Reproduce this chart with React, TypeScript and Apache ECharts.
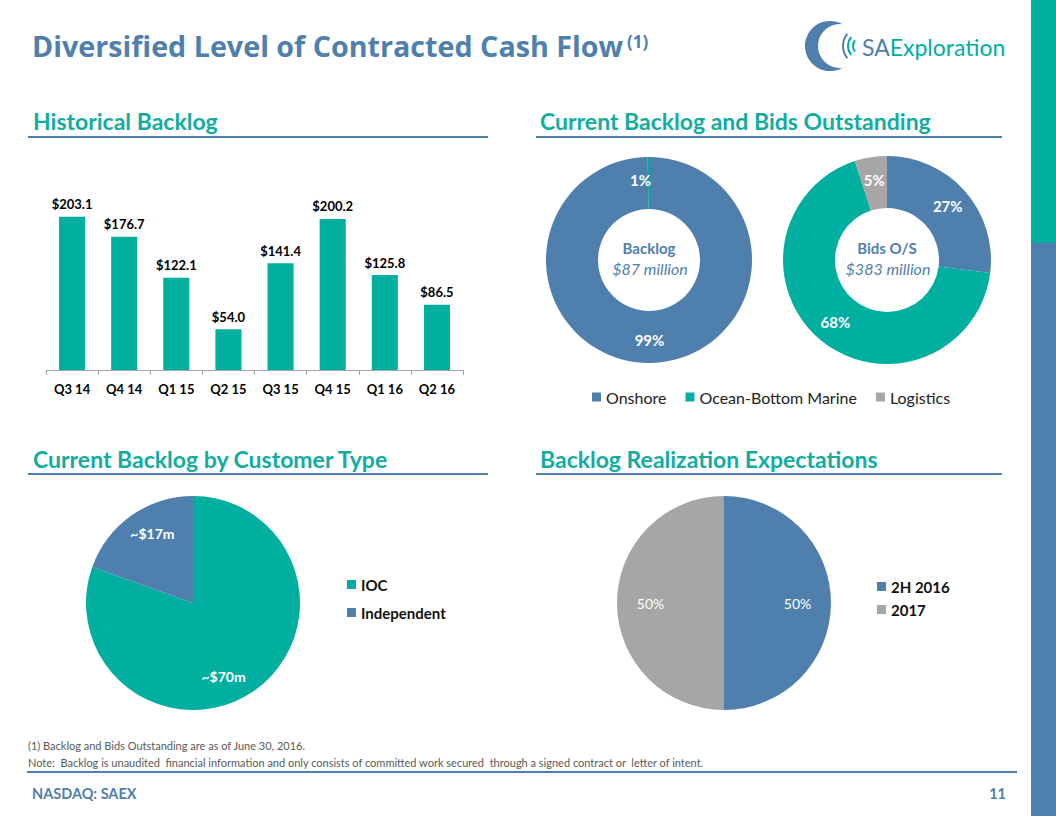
import React, { useEffect, useRef } from "react";
import * as echarts from "echarts";

const categories = ["Q3 14", "Q4 14", "Q1 15", "Q2 15", "Q3 15", "Q4 15", "Q1 16", "Q2 16"];
const backlogValues = [203.1, 176.7, 122.1, 54.0, 141.4, 200.2, 125.8, 86.5];

const segments = ["Onshore", "Ocean-Bottom Marine", "Logistics"];
const backlogShares = [99.8, 0.2];
const backlogLabels = ["99%", "1%"];
const bidsShares = [27, 68, 5];

const customerTypes = ["IOC", "Independent"];
const customerValues = [70, 17];

const periods = ["2H 2016", "2017"];
const periodShares = [50, 50];

const BLUE = "#4F7FAD";
const TEAL = "#00AFA0";
const GRAY = "#A6A6A6";
const HEAD = "#12ADA1";
const FONT = "Lato";
const segColors = [BLUE, TEAL, GRAY];

function header(text: string, x: number, y: number, x1: number, x2: number, lineY: number) {
  return [
    {
      type: "text",
      x,
      y,
      style: { text, fill: HEAD, fontFamily: FONT, fontWeight: "bold", fontSize: 23, verticalAlign: "middle" },
    },
    {
      type: "line",
      shape: { x1, y1: lineY, x2, y2: lineY },
      style: { stroke: BLUE, lineWidth: 2 },
    },
  ];
}

export default function App() {
  const ref = useRef<HTMLDivElement>(null);
  useEffect(() => {
    if (!ref.current) return;
    const chart = echarts.init(ref.current, null, { renderer: "svg" });
    const option: any = {
      animation: false,
      textStyle: { fontFamily: FONT },
      grid: { left: 46, right: 593, top: 204, bottom: 446 },
      xAxis: {
        type: "category",
        data: categories,
        axisLine: { lineStyle: { color: GRAY } },
        axisTick: { show: true, length: 5, lineStyle: { color: GRAY } },
        axisLabel: { color: "#000", fontWeight: "bold", fontSize: 13, margin: 12, fontFamily: FONT },
      },
      yAxis: { type: "value", min: 0, max: 220, show: false, splitLine: { show: false } },
      legend: [
        {
          data: segments,
          left: 592,
          top: 389,
          padding: 0,
          icon: "rect",
          itemWidth: 9,
          itemHeight: 9,
          itemGap: 19,
          textStyle: { fontSize: 16, color: "#222", fontFamily: FONT },
        },
        {
          data: customerTypes,
          left: 347,
          top: 577,
          padding: 0,
          orient: "vertical",
          icon: "rect",
          itemWidth: 9,
          itemHeight: 9,
          itemGap: 13,
          textStyle: { fontSize: 15, color: "#111", fontWeight: "bold", fontFamily: FONT },
        },
        {
          data: periods,
          left: 877,
          top: 579,
          padding: 0,
          orient: "vertical",
          icon: "rect",
          itemWidth: 9,
          itemHeight: 9,
          itemGap: 8,
          textStyle: { fontSize: 15, color: "#111", fontWeight: "bold", fontFamily: FONT },
        },
      ],
      series: [
        {
          type: "bar",
          data: backlogValues,
          barWidth: "50%",
          itemStyle: { color: TEAL },
          label: {
            show: true,
            position: "top",
            distance: 6,
            color: "#000",
            fontWeight: "bold",
            fontSize: 13,
            fontFamily: FONT,
            formatter: (p: any) => "$" + Number(p.value).toFixed(1),
          },
        },
        {
          type: "pie",
          center: [649, 260],
          radius: [51, 103],
          startAngle: 90,
          clockwise: true,
          data: backlogShares.map((v, i) => ({
            name: segments[i],
            value: v,
            itemStyle: { color: segColors[i] },
          })),
          label: {
            show: true,
            position: "inside",
            color: "#fff",
            fontWeight: "bold",
            fontSize: 15,
            fontFamily: FONT,
            formatter: (p: any) => backlogLabels[p.dataIndex],
          },
          labelLine: { show: false },
          labelLayout: (p: any) => (p.dataIndex === 1 ? { dx: -8, dy: 0 } : {}),
        },
        {
          type: "pie",
          center: [887, 260],
          radius: [52, 104],
          startAngle: 90,
          clockwise: true,
          data: bidsShares.map((v, i) => ({
            name: segments[i],
            value: v,
            itemStyle: { color: segColors[i] },
          })),
          label: {
            show: true,
            position: "inside",
            color: "#fff",
            fontWeight: "bold",
            fontSize: 15,
            fontFamily: FONT,
            formatter: "{c}%",
          },
          labelLine: { show: false },
        },
        {
          type: "pie",
          center: [193, 603],
          radius: 107,
          startAngle: 90,
          clockwise: true,
          data: customerValues.map((v, i) => ({
            name: customerTypes[i],
            value: v,
            itemStyle: { color: [TEAL, BLUE][i] },
          })),
          label: {
            show: true,
            position: "inside",
            color: "#fff",
            fontWeight: "bold",
            fontSize: 14,
            fontFamily: FONT,
            formatter: "~${c}m",
          },
          labelLine: { show: false },
          labelLayout: (p: any) => (p.dataIndex === 0 ? { dx: -2, dy: 27 } : { dx: -8, dy: -23 }),
        },
        {
          type: "pie",
          center: [724, 603],
          radius: 107,
          startAngle: 90,
          clockwise: true,
          data: periodShares.map((v, i) => ({
            name: periods[i],
            value: v,
            itemStyle: { color: [BLUE, GRAY][i] },
          })),
          label: {
            show: true,
            position: "inside",
            color: "#fff",
            fontSize: 14,
            fontFamily: FONT,
            formatter: "{c}%",
          },
          labelLine: { show: false },
          labelLayout: (p: any) => (p.dataIndex === 0 ? { dx: 17, dy: 0 } : { dx: -17, dy: 0 }),
        },
      ],
      graphic: [
        { type: "rect", shape: { x: 1031, y: 0, width: 25, height: 243 }, style: { fill: TEAL } },
        { type: "rect", shape: { x: 1031, y: 243, width: 25, height: 573 }, style: { fill: BLUE } },
        {
          type: "text",
          x: 32,
          y: 45,
          style: {
            text: "Diversified Level of Contracted Cash Flow",
            fill: BLUE,
            fontFamily: "Open Sans",
            fontWeight: "bold",
            fontSize: 28.7,
            verticalAlign: "middle",
          },
        },
        {
          type: "text",
          x: 627,
          y: 41,
          style: { text: "(1)", fill: BLUE, fontFamily: "Open Sans", fontWeight: "bold", fontSize: 17, verticalAlign: "middle" },
        },
        // logo
        { type: "circle", shape: { cx: 830, cy: 46, r: 25 }, style: { fill: BLUE } },
        { type: "circle", shape: { cx: 840, cy: 46, r: 22 }, style: { fill: "#fff" } },
        ...[9, 14, 19].map((r, i) => ({
          type: "arc",
          shape: { cx: 862, cy: 46, r, startAngle: Math.PI * 0.78, endAngle: Math.PI * 1.22, clockwise: true },
          style: { stroke: i === 2 ? BLUE : TEAL, lineWidth: 2, fill: null },
        })),
        {
          type: "text",
          x: 862,
          y: 47,
          style: {
            text: "{a|SA}{b|Exploration}",
            verticalAlign: "middle",
            rich: {
              a: { fill: BLUE, fontFamily: FONT, fontSize: 23, color: BLUE },
              b: { fill: TEAL, fontFamily: FONT, fontSize: 23, color: TEAL },
            },
          },
        },
        ...header("Historical Backlog", 33, 121, 28, 488, 137),
        ...header("Current Backlog and Bids Outstanding", 540, 121, 536, 1002, 137),
        ...header("Current Backlog by Customer Type", 33, 459, 28, 488, 474),
        ...header("Backlog Realization Expectations", 540, 459, 536, 1002, 474),
        // donut centre texts
        {
          type: "text",
          x: 649,
          y: 248,
          style: { text: "Backlog", fill: BLUE, fontFamily: FONT, fontWeight: "bold", fontSize: 15, align: "center", verticalAlign: "middle" },
        },
        {
          type: "text",
          x: 650,
          y: 268,
          style: { text: "$87 million", fill: BLUE, fontFamily: FONT, fontStyle: "italic", fontSize: 16, align: "center", verticalAlign: "middle" },
        },
        {
          type: "text",
          x: 887,
          y: 248,
          style: { text: "Bids O/S", fill: BLUE, fontFamily: FONT, fontWeight: "bold", fontSize: 15, align: "center", verticalAlign: "middle" },
        },
        {
          type: "text",
          x: 888,
          y: 268,
          style: { text: "$383 million", fill: BLUE, fontFamily: FONT, fontStyle: "italic", fontSize: 16, align: "center", verticalAlign: "middle" },
        },
        // footnotes
        {
          type: "text",
          x: 28,
          y: 745,
          style: { text: "(1) Backlog and Bids Outstanding are as of June 30, 2016.", fill: "#595959", fontFamily: FONT, fontSize: 11, verticalAlign: "middle" },
        },
        {
          type: "text",
          x: 28,
          y: 762,
          style: {
            text: "Note:  Backlog is unaudited  financial information and only consists of committed work secured  through a signed contract or  letter of intent.",
            fill: "#595959",
            fontFamily: FONT,
            fontSize: 11,
            verticalAlign: "middle",
          },
        },
        { type: "line", shape: { x1: 27, y1: 772, x2: 1017, y2: 772 }, style: { stroke: BLUE, lineWidth: 2 } },
        {
          type: "text",
          x: 32,
          y: 793,
          style: { text: "NASDAQ: SAEX", fill: BLUE, fontFamily: FONT, fontWeight: "bold", fontSize: 14.5, verticalAlign: "middle" },
        },
        {
          type: "text",
          x: 1006,
          y: 793,
          style: { text: "11", fill: BLUE, fontFamily: FONT, fontWeight: "bold", fontSize: 14.5, align: "right", verticalAlign: "middle" },
        },
      ],
    };
    chart.setOption(option);
    return () => chart.dispose();
  }, []);
  return (
    <div
      ref={ref}
      style={{ position: "fixed", left: 0, top: 0, width: 1056, height: 816, background: "#fff" }}
    />
  );
}
